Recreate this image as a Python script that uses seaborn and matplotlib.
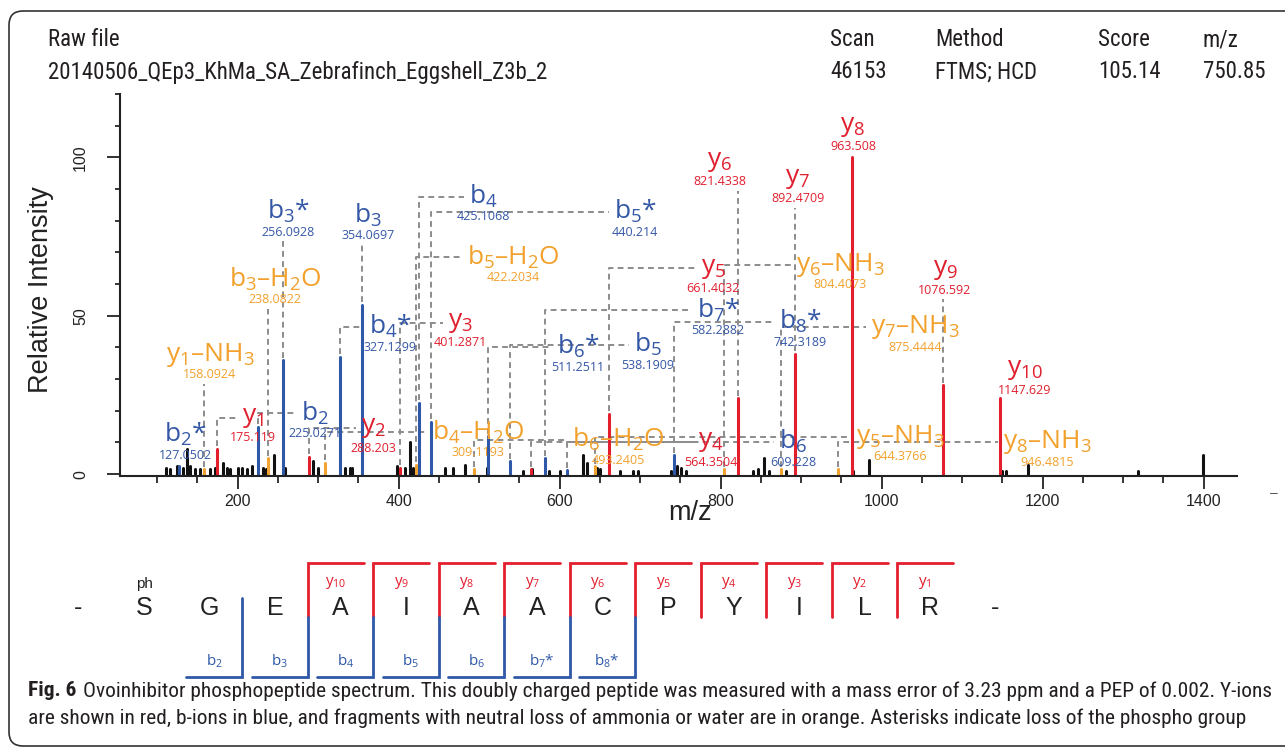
import re
import matplotlib
matplotlib.use('Agg')
import matplotlib.pyplot as plt
from matplotlib import font_manager
from matplotlib.patches import FancyBboxPatch
import numpy as np
import pandas as pd
import seaborn as sns

# unassigned peaks (black)
other_mz = [111.2, 116.1, 124.8, 132.3, 137.3, 141.0, 147.2, 153.4, 165.8, 172.0,
            182.0, 187.0, 190.7, 200.6, 205.6, 211.8, 218.0, 231.7, 235.4, 245.3,
            259.0, 293.8, 300.0, 333.5, 339.8, 342.2, 398.1, 408.1, 414.3, 418.0,
            457.8, 467.7, 482.6, 509.9, 554.7, 565.8, 587.0, 600.6, 629.2, 634.2,
            646.6, 650.3, 675.2, 691.3, 697.5, 738.5, 746.0, 751.0, 757.1, 840.4,
            846.6, 854.0, 860.2, 881.4, 964.6, 984.5, 1149.7, 1154.7, 1182.0, 1318.6,
            1399.4]
other_int = [2, 1.5, 2.5, 2, 8, 2.5, 1.5, 1.5, 1.5, 2,
             3.5, 2, 1.5, 2, 2, 1.5, 2.5, 2, 1.5, 6,
             2, 4, 2, 2, 2, 2, 2.5, 2, 10, 2,
             2, 2, 3, 2, 1, 1.5, 1, 1, 6, 3.5,
             2, 1.5, 1, 1, 1, 1, 2.5, 2, 1, 1,
             1.5, 5, 1, 1, 1, 4.5, 1, 1, 3, 1,
             6]

# assigned fragment ions
ion_names = ['b2*', 'y1-NH3', 'y1', 'b2', 'b3-H2O', 'b3*', 'y2', 'b4-H2O', 'b4*', 'b3',
             'y3', 'b5-H2O', 'b4', 'b5*', 'b6-H2O', 'b6*', 'b5', 'y4', 'b7*', 'b6',
             'y5-NH3', 'y5', 'b8*', 'y6-NH3', 'y6', 'y7-NH3', 'y7', 'y8-NH3', 'y8', 'y9',
             'y10']
ion_mz = [127.0502, 158.0924, 175.119, 225.0271, 238.0822, 256.0928, 288.203, 309.1193, 327.1299, 354.0697,
          401.2871, 422.2034, 425.1068, 440.214, 493.2405, 511.2511, 538.1909, 564.3504, 582.2882, 609.228,
          644.3766, 661.4032, 742.3189, 804.4073, 821.4338, 875.4444, 892.4709, 946.4815, 963.508, 1076.592,
          1147.629]
ion_int = [2.5, 1.5, 8, 15, 5, 36, 5.5, 3.5, 37, 53.5,
           2, 3, 22.5, 16.5, 1.5, 12, 4, 1.5, 5, 1.2,
           2.5, 19, 6, 1.5, 24, 1.5, 38, 1.5, 100, 28,
           24]
ion_kind = ['b', 'loss', 'y', 'b', 'loss', 'b', 'y', 'loss', 'b', 'b',
            'y', 'loss', 'b', 'b', 'loss', 'b', 'b', 'y', 'b', 'b',
            'loss', 'y', 'b', 'loss', 'y', 'loss', 'y', 'loss', 'y', 'y',
            'y']

# label anchors (m/z, intensity) of the ion names
label_pos = {
    'b2*': (134.8, 12.4), 'y1-NH3': (165.8, 37.7), 'y1': (219.3, 17.8),
    'b3-H2O': (246.6, 61.4), 'b3*': (262.7, 82.8), 'b2': (296.3, 19.2),
    'b3': (362.1, 81.6), 'y2': (368.3, 14.6), 'b4*': (389.4, 46.5),
    'y3': (476.4, 47.8), 'b4': (505.0, 87.6), 'b5-H2O': (542.2, 68.4),
    'b4-H2O': (498.8, 13.2), 'b5*': (693.8, 82.8), 'b6*': (623.0, 40.2),
    'b5': (709.9, 40.8), 'b6-H2O': (672.7, 10.8), 'y5': (790.7, 65.0),
    'y6': (799.4, 98.7), 'y7': (896.3, 93.3), 'b7*': (796.9, 51.8),
    'y4': (788.2, 10.2), 'b6': (890.1, 10.2), 'b8*': (898.8, 48.1),
    'y6-NH3': (948.4, 66.1), 'y8': (964.6, 109.7), 'y9': (1078.9, 64.5),
    'y7-NH3': (1041.6, 46.5), 'y10': (1178.3, 32.9), 'y5-NH3': (1023.0, 11.8),
    'y8-NH3': (1205.6, 10.2),
}

# peptide
residues = list('SGEAIAACPYILR')
phospho_site = 0
y_series = ['y1', 'y2', 'y3', 'y4', 'y5', 'y6', 'y7', 'y8', 'y9', 'y10']
b_series = ['b2', 'b3', 'b4', 'b5', 'b6', 'b7*', 'b8*']

header_keys = ['Raw file', 'Scan', 'Method', 'Score', 'm/z']
header_vals = ['20140506_QEp3_KhMa_SA_Zebrafinch_Eggshell_Z3b_2', '46153', 'FTMS; HCD', '105.14', '750.85']
caption_bold = 'Fig. 6'
caption_1 = ('Ovoinhibitor phosphopeptide spectrum. This doubly charged peptide was measured '
             'with a mass error of 3.23 ppm and a PEP of 0.002. Y-ions')
caption_2 = ('are shown in red, b-ions in blue, and fragments with neutral loss of ammonia or '
             'water are in orange. Asterisks indicate loss of the phospho group')

RED = '#e31e2d'
BLUE = '#2f58a8'
ORANGE = '#f2a332'
palette = {'other': '#111111', 'loss': ORANGE, 'b': BLUE, 'y': RED}
text_col = {'loss': '#f2a12c', 'b': '#3558a6', 'y': '#e0202f'}

sns.set_theme(style='ticks')
plt.rcParams['font.family'] = ['Liberation Sans', 'DejaVu Sans']
plt.rcParams['mathtext.fontset'] = 'custom'
plt.rcParams['mathtext.rm'] = 'Open Sans'
plt.rcParams['mathtext.it'] = 'Open Sans'
plt.rcParams['mathtext.bf'] = 'Open Sans:bold'

available = {f.name for f in font_manager.fontManager.ttflist}
narrow = next((n for n in ['Liberation Sans Narrow', 'Roboto Condensed', 'Open Sans Condensed']
               if n in available), 'Lato')

W, H = 1285, 749
fig = plt.figure(figsize=(W / 100, H / 100), dpi=100)
renderer = fig.canvas.get_renderer()

# page overlay in pixel coordinates
pg = fig.add_axes([0, 0, 1, 1])
pg.set_xlim(0, W)
pg.set_ylim(H, 0)
pg.axis('off')
pg.add_patch(FancyBboxPatch((9, 11), 1320, 735, boxstyle='round,pad=0,rounding_size=14',
                            fill=False, ec='#333333', lw=1.2, clip_on=False))


def fit(ax, x, y, s, width_px, **kw):
    t = ax.text(x, y, s, fontsize=10, **kw)
    w = t.get_window_extent(renderer).width
    t.set_fontsize(10 * width_px / w)
    return t


hv = fit(pg, 48, 72, header_vals[0], 497, family=narrow, va='center', color='#231f20')
hs = hv.get_fontsize()
for x, k, v in zip([48, 830, 935, 1098, 1203], header_keys, header_vals):
    pg.text(x, 40, k, fontsize=hs, family=narrow, va='center', color='#231f20')
    if x != 48:
        pg.text(x, 72, v, fontsize=hs, family=narrow, va='center', color='#231f20')

# caption, fitted to the box width
tb = pg.text(28, 691, caption_bold, fontsize=10, family=narrow, weight='bold', va='center', color='#231f20')
tr = pg.text(28, 691, caption_1, fontsize=10, family=narrow, va='center', color='#231f20')
wb = tb.get_window_extent(renderer).width
wr = tr.get_window_extent(renderer).width
cs = 10 * 1237 / (wb + wr + 4)
tb.set_fontsize(cs)
tr.set_fontsize(cs)
tr.set_x(28 + tb.get_window_extent(renderer).width + 0.3 * cs * 100 / 72)
pg.text(28, 718, caption_2, fontsize=cs, family=narrow, va='center', color='#231f20')
pg.text(1270, 493, '–', fontsize=10, color='#555555', va='center')


def ion_tex(name):
    return re.sub(r'(\d+)', r'$_{\1}$', name).replace('-', '–')


# peptide sequence with fragment brackets
step = 65.5
res_x = lambda i: 144 + step * i
bound = lambda i: res_x(i) + step / 2
n = len(residues)
for i, r in enumerate(['-'] + residues + ['-']):
    pg.text(res_x(i - 1), 608, r, fontsize=18, ha='center', va='center', color='#222222')
pg.text(res_x(phospho_site), 584, 'ph', fontsize=11, ha='center', va='center', color='#222222')
y_bounds = set()
for name in y_series:
    j = n - int(name[1:]) - 1
    bx = bound(j)
    y_bounds.add(j)
    pg.plot([bx, bx, bx + 56], [617, 563, 563], color=RED, lw=2, solid_joinstyle='miter')
    pg.text(bx + 28, 583, ion_tex(name), fontsize=11, ha='center', va='center',
            color=RED, family='Open Sans')
for name in b_series:
    j = int(re.sub(r'\D', '', name)) - 1
    bx = bound(j)
    top = 617 if j in y_bounds else 598
    pg.plot([bx, bx, bx - 56], [top, 677, 677], color=BLUE, lw=2, solid_joinstyle='miter')
    pg.text(bx - 28, 661, ion_tex(name), fontsize=11, ha='center', va='center',
            color=BLUE, family='Open Sans')

# spectrum
ax = fig.add_axes([120 / W, 1 - 476 / H, 1117 / W, 382 / H])
ax.patch.set_alpha(0)
floor = -0.6
ax.set_xlim(54, 1441.6)
ax.set_ylim(floor, 120)

rows = []
all_mz = other_mz + ion_mz
all_int = other_int + ion_int
all_kind = ['other'] * len(other_mz) + ion_kind
for k, (m, h, kind) in enumerate(zip(all_mz, all_int, all_kind)):
    rows.append((k, m, floor, kind))
    rows.append((k, m, h, kind))
peaks = pd.DataFrame(rows, columns=['peak', 'mz', 'intensity', 'kind'])
sns.lineplot(data=peaks, x='mz', y='intensity', hue='kind', units='peak', estimator=None,
             hue_order=['other', 'loss', 'b', 'y'], palette=palette, linewidth=2.2,
             sort=False, legend=False, ax=ax)

ax.set_xticks(np.arange(200, 1401, 200))
ax.set_xticks(np.arange(100, 1401, 50), minor=True)
ax.set_yticks([0, 50, 100])
ax.set_yticks(np.arange(0, 121, 10), minor=True)
ax.set_yticklabels(['0', '50', '100'], rotation=90, va='center')
ax.tick_params(axis='x', which='major', length=9.4, width=1.3, pad=3.6, labelsize=11.5, colors='#222222')
ax.tick_params(axis='x', which='minor', length=5, width=1.3)
ax.tick_params(axis='y', which='major', length=9.4, width=1.3, pad=13.5, labelsize=11.5, colors='#222222')
ax.tick_params(axis='y', which='minor', length=3.6, width=1.3)
sns.despine(ax=ax)
for s in ['left', 'bottom']:
    ax.spines[s].set_linewidth(1.5)
    ax.spines[s].set_color('#222222')
ax.set_xlabel('m/z', fontsize=19.5, color='#222222')
ax.set_ylabel('Relative Intensity', fontsize=19.5, color='#222222')
ax.xaxis.set_label_coords(0.510, -0.063)
ax.yaxis.set_label_coords(-0.059, 0.487)

# ion labels with dashed leaders
inv = ax.transData.inverted()
dash = dict(color='#8c8c8c', lw=1.4, ls=(0, (3, 2.2)), zorder=1)
for name, m, h, kind in zip(ion_names, ion_mz, ion_int, ion_kind):
    lx, ly = label_pos[name]
    mass = f'{m:.4f}'.rstrip('0').rstrip('.')
    t1 = ax.text(lx, ly, ion_tex(name), fontsize=19, ha='center', va='center',
                 color=text_col[kind], family='Open Sans')
    t2 = ax.text(lx, ly - 6.4, mass, fontsize=9, ha='center', va='center',
                 color=text_col[kind], family='Open Sans')
    b1 = t1.get_window_extent(renderer).transformed(inv)
    b2 = t2.get_window_extent(renderer).transformed(inv)
    x0, x1 = min(b1.x0, b2.x0), max(b1.x1, b2.x1)
    if x0 - 3 <= m <= x1 + 3:
        top = b2.y0 - 0.8
        if top > h + 1.5:
            ax.plot([m, m], [h + 0.8, top], **dash)
    else:
        edge = b1.x0 - 6 if lx > m else b1.x1 + 6
        ax.plot([m, m, edge], [h + 0.8, ly, ly], **dash)

fig.savefig('out.png', dpi=100)
